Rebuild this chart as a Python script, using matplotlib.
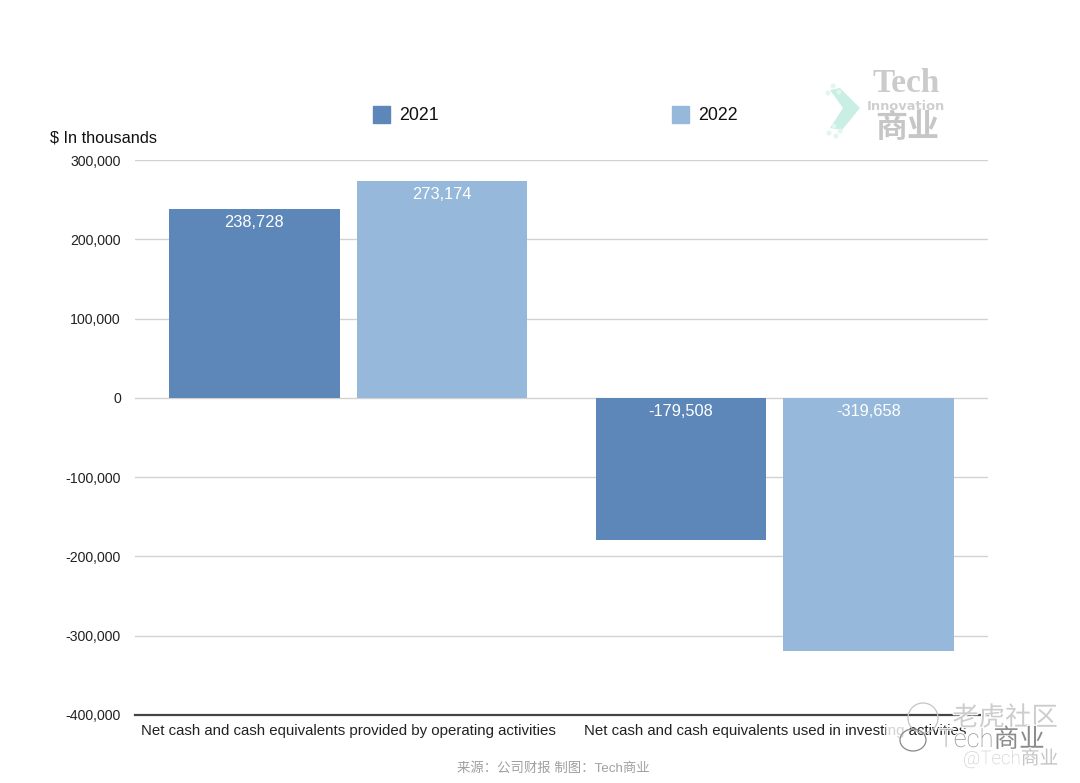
import matplotlib
matplotlib.use('Agg')
import matplotlib.pyplot as plt
import matplotlib.patheffects as pe
from matplotlib.patches import Polygon, Ellipse, Rectangle
from matplotlib.ticker import FuncFormatter

plt.rcParams['font.family'] = ['Liberation Sans', 'Noto Sans CJK SC', 'DejaVu Sans']

categories = ['Net cash and cash equivalents provided by operating activities',
              'Net cash and cash equivalents used in investing activities']
years = ['2021', '2022']
values_2021 = [238728, -179508]
values_2022 = [273174, -319658]
colors = ['#5d87b9', '#96b8da']
y_ticks = [300000, 200000, 100000, 0, -100000, -200000, -300000, -400000]

W, H = 1080, 783
fig = plt.figure(figsize=(W / 100, H / 100), dpi=100, facecolor='white')
ax = fig.add_axes([135 / W, 1 - 715 / H, 853 / W, 555 / H])


def fx(px):
    return px / W


def fy(py):
    return 1 - py / H


for i, (vals, col, off) in enumerate(zip([values_2021, values_2022], colors, [-0.22, 0.22])):
    for j, v in enumerate(vals):
        ax.bar(j + off, v, width=0.4, color=col, zorder=3)
        ax.annotate(f'{v:,}', (j + off, v if v > 0 else 0), xytext=(0, -13.5),
                    textcoords='offset pixels', ha='center', va='center',
                    color='white', fontsize=11.8, zorder=4)

ax.set_xlim(-0.5, 1.5)
ax.set_ylim(-400000, 300000)
ax.set_yticks(y_ticks)
ax.yaxis.set_major_formatter(FuncFormatter(lambda v, _: f'{int(v):,}'))
ax.set_xticks([0, 1])
ax.set_xticklabels(categories)
ax.tick_params(axis='both', length=0, labelsize=10)
ax.tick_params(axis='y', pad=10.2, labelsize=10.2, labelcolor='#222222')
ax.tick_params(axis='x', pad=6.8, labelsize=10.85, labelcolor='#222222')
ax.grid(axis='y', color='#d2d2d2', lw=1, zorder=0)
ax.set_axisbelow(True)
for s in ['top', 'right', 'left']:
    ax.spines[s].set_visible(False)
ax.spines['bottom'].set_color('#444444')
ax.spines['bottom'].set_linewidth(1.6)

# Legend and axis title
for px, col, lab in zip([373, 672], colors, years):
    fig.add_artist(Rectangle((fx(px), fy(123)), 16.5 / W, 17 / H, color=col, transform=fig.transFigure))
    fig.text(fx(px + 26.5), fy(115), lab, fontsize=12.8, va='center', color='#111111')
fig.text(fx(50), fy(138), '$ In thousands', fontsize=11.75, va='center', color='#111111')

# Source line
fig.text(fx(553.5), fy(768), '来源：公司财报 制图：Tech商业', fontsize=9.65, color='#a0a0a0', ha='center', va='center')

# Logo watermark
fig.add_artist(Polygon([(fx(830), fy(90)), (fx(840), fy(88)), (fx(860), fy(108)), (fx(842), fy(130)),
                        (fx(830), fy(128)), (fx(843), fy(108))], closed=True,
                       facecolor='#c9efe4', edgecolor='none', transform=fig.transFigure))
for cx, cy in [(833, 86), (839, 92), (828, 93), (834, 126), (840, 131), (829, 133), (836, 136)]:
    fig.add_artist(Ellipse((fx(cx), fy(cy)), 5 / W, 5 / H, facecolor='#e0f6ee', edgecolor='none',
                           transform=fig.transFigure))
fig.text(fx(906), fy(84), 'Tech', family='Liberation Serif', weight='bold', fontsize=24,
         color='#cbcbcb', ha='center', va='center')
fig.text(fx(906), fy(107), 'Innovation', family='DejaVu Sans', weight='bold', fontsize=9.4,
         color='#cfcfcf', ha='center', va='center')
fig.text(fx(907), fy(128), '商业', family='Noto Sans CJK SC', weight='bold', fontsize=23,
         color='#c6c6c6', ha='center', va='center')

# Bottom-right watermark
halo = [pe.withStroke(linewidth=1.6, foreground='white')]
fig.add_artist(Rectangle((fx(886), fy(739)), 22 / W, 17 / H, facecolor='white', alpha=0.8,
                         edgecolor='none', transform=fig.transFigure, zorder=5))
for cx, cy, w, h, c in [(923, 718, 30, 30, '#c4c4c4'), (913, 740, 26, 22, '#888888')]:
    fig.add_artist(Ellipse((fx(cx), fy(cy)), w / W, h / H, facecolor='none', edgecolor=c,
                           lw=0.9, transform=fig.transFigure, zorder=5))
fig.text(fx(1005), fy(718), '老虎社区', fontsize=19, color='#cdcdcd', ha='center', va='center',
         family='Noto Sans CJK SC', weight='light', zorder=6, path_effects=halo)
fig.text(fx(991.5), fy(740), 'Tech商业', fontsize=18.4, color='#8a8a8a', ha='center', va='center',
         family=['Roboto', 'Noto Sans CJK SC'], weight='light', zorder=7, path_effects=halo)
fig.text(fx(1010.5), fy(758), '@Tech商业', fontsize=13.5, color='#c4c4c4', ha='center', va='center',
         family=['Roboto', 'Noto Sans CJK SC'], weight='light', zorder=7, path_effects=halo)

fig.savefig('out.png', dpi=100)
